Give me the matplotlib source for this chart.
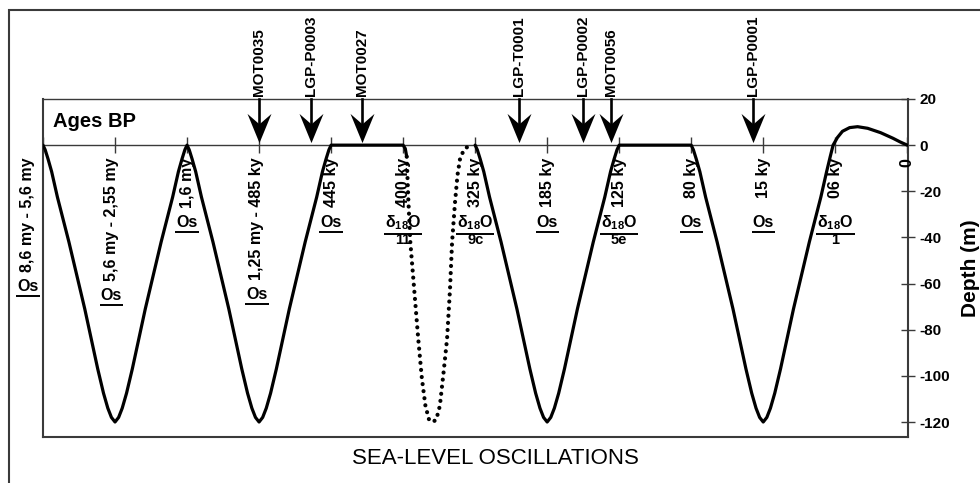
import matplotlib.pyplot as plt
from matplotlib.path import Path
from matplotlib.patches import Rectangle

plt.rcParams['font.family'] = ['Liberation Sans', 'DejaVu Sans']
plt.rcParams['mathtext.fontset'] = 'custom'
plt.rcParams['mathtext.rm'] = 'Liberation Sans'
plt.rcParams['mathtext.bf'] = 'Liberation Sans:bold'
plt.rcParams['mathtext.it'] = 'Liberation Sans:italic'
plt.rcParams['axes.unicode_minus'] = False

# ages along the curve, one per unit of x
ages = ['8,6 my - 5,6 my', '5,6 my - 2,55 my', '1,6 my', '1,25 my - 485 ky',
        '445 ky', '400 ky', '325 ky', '185 ky', '125 ky', '80 ky', '15 ky', '06 ky', '0']
age_x = [-0.21, 0.95, 2.0, 2.97, 4, 5, 6, 7, 8, 9, 10, 11, 12]
age_is_os = [True, True, True, True] + [False] * 9

# stages written under the zero line
stage_x = [4, 5, 6, 7, 8, 9, 10, 11]
stage_name = ['Os', 'd18O', 'd18O', 'Os', 'd18O', 'Os', 'Os', 'd18O']
stage_sub = ['', '11', '9c', '', '5e', '', '', '1']

# sampled sites
samples = ['MOT0035', 'LGP-P0003', 'MOT0027', 'LGP-T0001', 'LGP-P0002', 'MOT0056', 'LGP-P0001']
sample_x = [3.0, 3.72, 4.43, 6.61, 7.5, 7.89, 9.86]

# one glacial lowstand, highstand -> lowstand (metres)
half_dx = [-1.0, -0.97, -0.93, -0.88, -0.80, -0.64, -0.42, -0.24, -0.16, -0.10, -0.05, 0.0]
half_depth = [0, -2.0, -6.0, -11.5, -22.5, -42, -71, -97, -107.5, -114, -118, -120]
lowstands = [1, 3, 7, 10]

# hook at the end of the 400 ky highstand
hook_x = [5.0, 5.03, 5.05]
hook_depth = [0, -1.5, -5]

# uncertain lowstand between 400 and 325 ky
dotted_x = [5.05, 5.07, 5.10, 5.155, 5.21, 5.26, 5.31, 5.36, 5.41, 5.46, 5.51,
            5.56, 5.61, 5.65, 5.68, 5.72, 5.755, 5.79, 5.83, 5.88, 5.93]
dotted_depth = [-5, -22, -42, -63, -84, -101, -113, -119, -120, -119, -113,
                -99, -84, -63, -42, -25, -13, -6, -3, -1, -0.5]

# holocene rise and fall
recent_x = [10.93, 10.97, 11.03, 11.1, 11.2, 11.31, 11.45, 11.63, 11.8, 11.9, 12.0]
recent_depth = [-5, 0, 3.3, 6, 7.6, 8, 7.3, 5.4, 3.0, 1.4, 0]


def trough(c):
    xs = [c + d for d in half_dx] + [c - d for d in half_dx[::-1][1:]]
    ys = half_depth + half_depth[::-1][1:]
    return xs, ys


x1, y1 = trough(lowstands[0])
x2, y2 = trough(lowstands[1])
first_x = x1 + x2[1:] + hook_x
first_y = y1 + y2[1:] + hook_depth

x3, y3 = trough(lowstands[2])
x4, y4 = trough(lowstands[3])
keep = [i for i, v in enumerate(x4) if v <= 10.88]
second_x = x3 + [x4[i] for i in keep] + recent_x
second_y = y3 + [y4[i] for i in keep] + recent_depth

fig = plt.figure(figsize=(9.8, 4.83), dpi=100)
ax = fig.add_axes([43 / 980, 1 - 437 / 483, 865 / 980, 338 / 483])

frame = '#3a3a3a'
ax.axhline(0, color=frame, lw=1.0, zorder=1)
ax.plot(range(len(ages)), [0] * len(ages), ls='none', marker='|', ms=11, mew=1.0,
        color=frame, zorder=1)

ax.plot(first_x, first_y, color='black', lw=2.3, solid_capstyle='round',
        solid_joinstyle='round', zorder=3)
ax.plot(second_x, second_y, color='black', lw=2.3, solid_capstyle='round',
        solid_joinstyle='round', zorder=3)
ax.plot(dotted_x, dotted_depth, color='black', lw=3.0, ls=(0, (0.01, 1.7)),
        dash_capstyle='round', zorder=3)

# sample arrows, barbed head
head = Path([(0, -14), (-11.5, 14), (0, 4), (11.5, 14), (0, -14)],
            [Path.MOVETO, Path.LINETO, Path.LINETO, Path.LINETO, Path.CLOSEPOLY])
for name, sx in zip(samples, sample_x):
    ax.plot([sx, sx], [20, 9], color='black', lw=1.9, zorder=4, clip_on=False)
    ax.plot(sx, 7.6, marker=head, ms=21, color='black', mew=0, zorder=4)
    ax.text(sx, 21.2, name, rotation=90, ha='center', va='bottom', fontsize=11,
            fontweight='bold', clip_on=False)

# age labels (rotated)
age_texts = []
for xpos, age in zip(age_x, ages):
    t = ax.text(xpos, -5.5, age, rotation=90, ha='center', va='top', fontsize=11.5,
                fontweight='bold', clip_on=False)
    age_texts.append(t)

underlined = []
for sx, name, sub in zip(stage_x, stage_name, stage_sub):
    label = 'Os' if name == 'Os' else r'$\mathbf{\delta}_{\mathbf{18}}\mathbf{O}$'
    t = ax.text(sx, -33.5, label, ha='center', va='center', fontsize=11.5,
                fontweight='bold')
    underlined.append(t)
    if sub:
        ax.text(sx, -41, sub, ha='center', va='center', fontsize=10.5,
                fontweight='bold')

ax.text(0.14, 10.4, 'Ages BP', ha='left', va='center', fontsize=14.5,
        fontweight='bold')

ax.set_xlim(0, 12.01)
ax.set_ylim(-126.5, 20)
ax.set_xticks([])
ax.yaxis.tick_right()
ax.set_yticks(range(-120, 21, 20))
ax.tick_params(axis='y', direction='inout', length=10, width=1.0, color=frame,
               labelsize=11, pad=3)
for lab in ax.get_yticklabels():
    lab.set_fontweight('bold')
for side in ['left', 'right', 'bottom']:
    ax.spines[side].set_color(frame)
    ax.spines[side].set_linewidth(1.5)
ax.spines['top'].set_color(frame)
ax.spines['top'].set_linewidth(1.0)

fig.text(970 / 980, 1 - 268 / 483, 'Depth (m)', rotation=90, ha='center',
         va='center', fontsize=15, fontweight='bold')
fig.text(495 / 980, 1 - 458 / 483, 'SEA-LEVEL OSCILLATIONS', ha='center',
         va='center', fontsize=16)

fig.add_artist(Rectangle((9 / 980, -0.1), 2, 1 - 10 / 483 + 0.1,
                         transform=fig.transFigure, fill=False, lw=1.5, ec=frame))

# "Os" under the oldest ages, then underline every stage name
fig.canvas.draw()
renderer = fig.canvas.get_renderer()
inv = ax.transData.inverted()
for t, os_ in zip(age_texts, age_is_os):
    if not os_:
        continue
    bb = t.get_window_extent(renderer)
    x_mid = (bb.x0 + bb.x1) / 2
    x_data, y_top = inv.transform((x_mid, bb.y0 - 7))
    o = ax.text(x_data, y_top, 'Os', ha='center', va='top', fontsize=11.5,
                fontweight='bold', clip_on=False)
    underlined.append(o)

for t in underlined:
    bb = t.get_window_extent(renderer)
    (ux0, uy), (ux1, _) = inv.transform([(bb.x0 - 1, bb.y0 - 2), (bb.x1 + 1, bb.y0)])
    ax.plot([ux0, ux1], [uy, uy], color='black', lw=1.4, clip_on=False,
            solid_capstyle='butt')

fig.savefig('out.png', dpi=100)
